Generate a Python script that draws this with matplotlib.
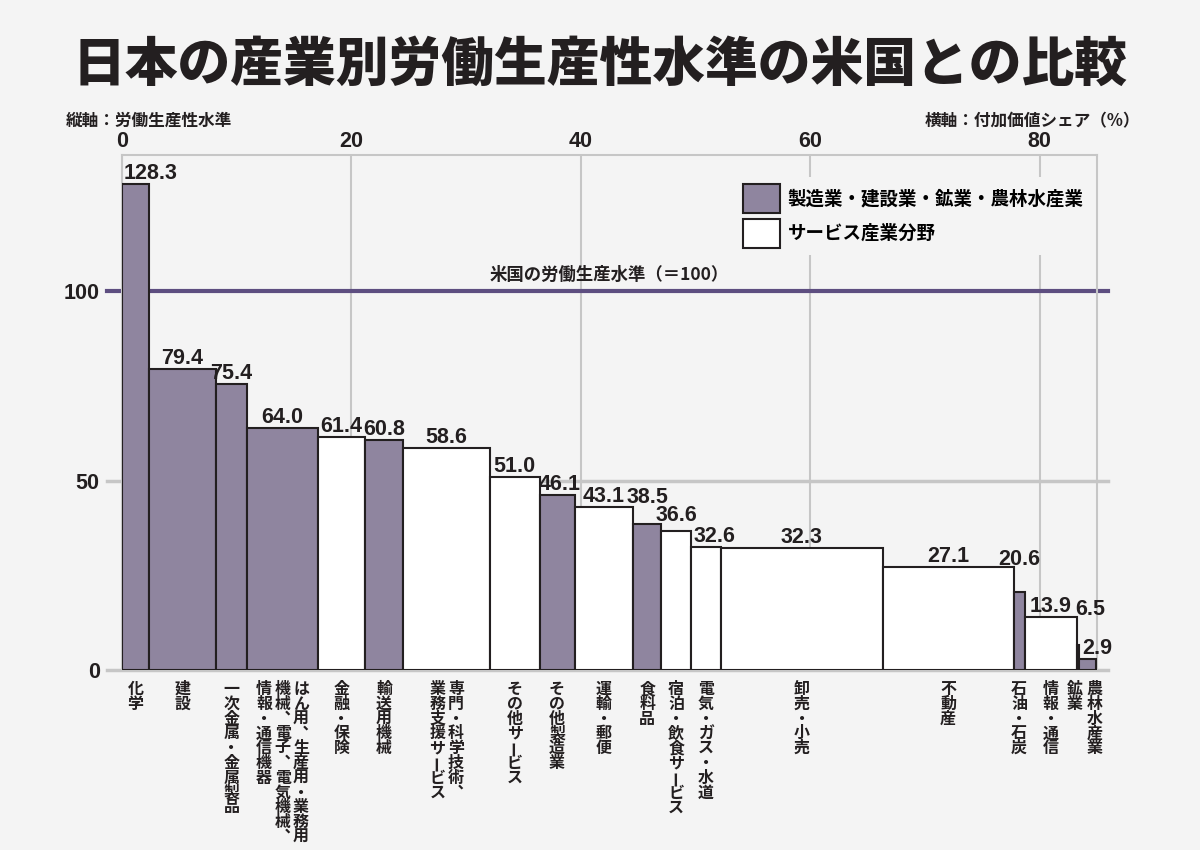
import matplotlib
matplotlib.use("Agg")

import matplotlib.pyplot as plt
import numpy as np
from matplotlib.patches import Patch

# Data: industries ordered by labour productivity (US = 100)
categories = [
    "化学", "建設", "一次金属・金属製品",
    "はん用、生産用・業務用機械、電子、電気機械、情報・通信機器",
    "金融・保険", "輸送用機械", "専門・科学技術、業務支援サービス",
    "その他サービス", "その他製造業", "運輸・郵便", "食料品",
    "宿泊・飲食サービス", "電気・ガス・水道", "卸売・小売", "不動産",
    "石油・石炭", "情報・通信", "鉱業", "農林水産業",
]
# vertical label columns, right column first
label_columns = [
    ["化学"], ["建設"], ["一次金属・金属製品"],
    ["はん用、生産用・業務用", "機械、電子、電気機械、", "情報・通信機器"],
    ["金融・保険"], ["輸送用機械"], ["専門・科学技術、", "業務支援サービス"],
    ["その他サービス"], ["その他製造業"], ["運輸・郵便"], ["食料品"],
    ["宿泊・飲食サービス"], ["電気・ガス・水道"], ["卸売・小売"], ["不動産"],
    ["石油・石炭"], ["情報・通信"], ["鉱業"], ["農林水産業"],
]
value_share = [2.35, 5.81, 2.76, 6.16, 4.12, 3.29, 7.61, 4.30, 3.05, 5.14,
               2.41, 2.62, 2.59, 14.10, 11.42, 0.96, 4.57, 0.15, 1.54]
productivity = [128.3, 79.4, 75.4, 64.0, 61.4, 60.8, 58.6, 51.0, 46.1, 43.1,
                38.5, 36.6, 32.6, 32.3, 27.1, 20.6, 13.9, 6.5, 2.9]
is_goods = [True, True, True, True, False, True, False, False, True, False,
            True, False, False, False, False, True, False, True, True]
us_level = 100

title = "日本の産業別労働生産性水準の米国との比較"
legend_labels = ["製造業・建設業・鉱業・農林水産業", "サービス産業分野"]

# value label nudges in pixels (dx, dy) to keep them from overlapping
label_nudge = {"化学": (15, 0), "その他製造業": (3, 0), "食料品": (0, 16),
               "宿泊・飲食サービス": (0, 5), "電気・ガス・水道": (8, 0),
               "石油・石炭": (0, 22), "鉱業": (12, 25), "農林水産業": (10, 0)}
# category label nudges in pixels (dx) for the crowded right end
name_nudge = {"鉱業": -3, "農林水産業": 7}

# Styles
BG = "#f4f4f4"
GOODS = "#8f859f"
SERVICE = "#ffffff"
EDGE = "#231f20"
GRID = "#c6c6c6"
US_LINE = "#5d4e80"
TXT = "#231f20"
JP = ["Noto Sans CJK JP", "DejaVu Sans"]
NUM = ["Liberation Sans", "DejaVu Sans"]

fig = plt.figure(figsize=(12, 8.5), dpi=100, facecolor=BG)
ax = fig.add_axes([122 / 1200, 1 - 670 / 850, 975 / 1200, 515 / 850])
ax.set_facecolor(BG)

shares = np.asarray(value_share)
lefts = np.concatenate([[0], np.cumsum(shares)[:-1]])
centers = lefts + shares / 2
colors = [GOODS if g else SERVICE for g in is_goods]

ax.bar(lefts, productivity, width=shares, align="edge", color=colors,
       edgecolor=EDGE, linewidth=1.5, zorder=3)

ax.set_xlim(0, 85)
ax.set_ylim(0, 136)

# reference lines, extended a little past the frame
x_ext = [-1.3, 86.0]
ax.plot(x_ext, [0, 0], color=GRID, lw=2.5, clip_on=False, zorder=1)
ax.plot(x_ext, [50, 50], color=GRID, lw=2.5, clip_on=False, zorder=1)
ax.plot(x_ext, [us_level, us_level], color=US_LINE, lw=3, clip_on=False, zorder=2)
ax.annotate("米国の労働生産水準（＝100）", xy=(42.5, us_level), xytext=(0, 7),
            textcoords="offset pixels", ha="center", va="bottom",
            fontsize=12.5, family=JP, weight="bold", color=TXT, zorder=4)

# frame and grid
for side in ["top", "left", "right"]:
    ax.spines[side].set_color(GRID)
    ax.spines[side].set_linewidth(1.5)
ax.spines["bottom"].set_visible(False)
ax.set_axisbelow(True)
ax.grid(axis="x", color=GRID, lw=1.5)

ax.xaxis.tick_top()
ax.set_xticks([0, 20, 40, 60, 80])
ax.set_yticks([0, 50, 100])
ax.tick_params(axis="x", length=0, pad=2, labelsize=15.5, labelcolor=TXT)
ax.tick_params(axis="y", length=0, pad=16, labelsize=15.5, labelcolor=TXT)
for lab in ax.get_xticklabels() + ax.get_yticklabels():
    lab.set_family(NUM)
    lab.set_weight("bold")

# value labels
for name, c, v in zip(categories, centers, productivity):
    dx, dy = label_nudge.get(name, (0, 0))
    ax.annotate(f"{v:.1f}", xy=(c, v), xytext=(dx, 5 + dy),
                textcoords="offset pixels", ha="center", va="baseline",
                fontsize=15.5, family=NUM, weight="bold", color=TXT, zorder=5)

# vertical category labels below the axis
pitch = 14.8
col_gap = 18.5
for name, c, cols in zip(categories, centers, label_columns):
    n = len(cols)
    for j, col in enumerate(cols):
        dx = (n - 1) / 2 * col_gap - j * col_gap + name_nudge.get(name, 0)
        for i, ch in enumerate(col):
            rot = 0
            if ch == "、":
                ch = "︑"
            elif ch == "ー":
                rot = 90
            ax.annotate(ch, xy=(c, 0), xytext=(dx, -19 - i * pitch),
                        textcoords="offset pixels", ha="center", va="center",
                        rotation=rot, fontsize=11.5, family=JP,
                        weight="bold", color=TXT, annotation_clip=False)

# legend
handles = [Patch(facecolor=GOODS, edgecolor=EDGE, lw=1.5),
           Patch(facecolor=SERVICE, edgecolor=EDGE, lw=1.5)]
leg = ax.legend(handles, legend_labels, loc="upper left",
                bbox_to_anchor=(736 / 1200, 1 - 177 / 850),
                bbox_transform=fig.transFigure, frameon=True, fancybox=False,
                facecolor=BG, edgecolor="none", framealpha=1,
                borderpad=0.4, borderaxespad=0, handlelength=2.0,
                handleheight=2.0, labelspacing=0.33, handletextpad=0.4,
                prop={"family": JP, "size": 13.3, "weight": "bold"})
leg.set_zorder(6)

# title and axis captions
fig.text(0.5, 1 - 65 / 850, title, ha="center", va="center", fontsize=38,
         family=JP, weight="black", color=TXT)
fig.text(66 / 1200, 1 - 121 / 850, "縦軸：労働生産性水準", ha="left",
         va="center", fontsize=12, family=JP, weight="bold", color=TXT)
fig.text(1140 / 1200, 1 - 121 / 850, "横軸：付加価値シェア（%）", ha="right",
         va="center", fontsize=12, family=JP, weight="bold", color=TXT)

fig.savefig("out.png", dpi=100, facecolor=BG)
